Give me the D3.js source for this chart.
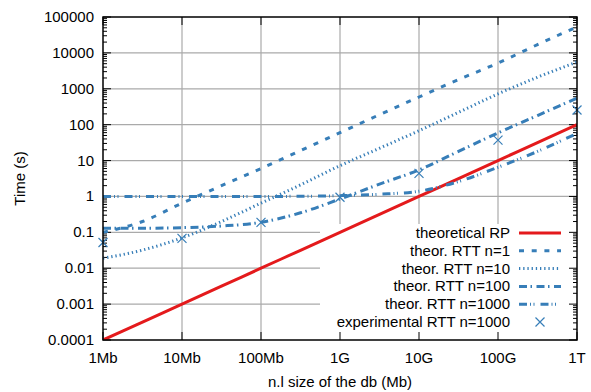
<!DOCTYPE html>
<html>
<head>
<meta charset="utf-8">
<script src="https://cdn.jsdelivr.net/npm/d3@7"></script>
<style>
  body { margin: 0; background: #fff; }
  svg text { font-family: "Liberation Sans", Arial, sans-serif; }
</style>
</head>
<body>
<div id="container"></div>
<script>
// db size in Mb (half-decade steps)
const sizes = [1, 3.16, 10, 31.6, 100, 316, 1000, 3162, 10000, 31623, 100000, 316228, 1000000];
const theoRP   = [0.0001, 0.000316, 0.001, 0.00316, 0.01, 0.0316, 0.1, 0.316, 1, 3.16, 10, 31.6, 100];
const rtt1     = [0.1, 0.2, 0.65, 2.0, 6, 19, 60, 190, 590, 1800, 5200, 17000, 53000];
const rtt10    = [0.019, 0.032, 0.07, 0.2, 0.65, 2.1, 7.2, 22, 68, 220, 720, 2100, 5600];
const rtt100   = [0.13, 0.13, 0.135, 0.15, 0.19, 0.35, 0.85, 2.2, 5.5, 18, 59, 180, 550];
const rtt1000  = [1.0, 1.0, 1.0, 1.0, 1.0, 1.01, 1.05, 1.15, 1.4, 2.6, 6.5, 18, 57];
// experimental points, one per decade
const expSizes = [1, 10, 100, 1000, 10000, 100000, 1000000];
const expRTT   = [0.052, 0.068, 0.19, 0.95, 4.4, 37, 257];

const xTicks = [1, 10, 100, 1000, 10000, 100000, 1000000];
const xTickLabels = ['1Mb', '10Mb', '100Mb', '1G', '10G', '100G', '1T'];
const yTicks = [0.0001, 0.001, 0.01, 0.1, 1, 10, 100, 1000, 10000, 100000];
const yTickLabels = ['0.0001', '0.001', '0.01', '0.1', '1', '10', '100', '1000', '10000', '100000'];

const width = 591, height = 392;
const margins = {top: 17, bottom: 52, left: 103, right: 14};
const blue = '#377eb8', red = '#e41a1c';
const fs = '15px';

const svg = d3.select('#container').append('svg')
    .attr('width', width).attr('height', height);

const xScale = d3.scaleLog().domain([1, 1e6]).range([margins.left, width - margins.right]);
const yScale = d3.scaleLog().domain([1e-4, 1e5]).range([height - margins.bottom, margins.top]);
const x0 = xScale.range()[0], x1 = xScale.range()[1];
const y0 = yScale.range()[0], y1 = yScale.range()[1];

// legend box edges (grid hidden behind it)
const keyLeft = 320, keyTop = 224;

// grid
const grid = svg.append('g').attr('stroke', '#aaa').attr('stroke-width', 1.2);
xTicks.slice(1, -1).forEach(v => {
    const x = xScale(v);
    grid.append('line').attr('x1', x).attr('x2', x).attr('y1', y1)
        .attr('y2', x > keyLeft ? keyTop : y0);
});
yTicks.slice(1, -1).forEach(v => {
    const y = yScale(v);
    grid.append('line').attr('y1', y).attr('y2', y).attr('x1', x0)
        .attr('x2', y > keyTop ? keyLeft : x1);
});

// ticks (inward, mirrored)
const ticks = svg.append('g').attr('stroke', '#000').attr('stroke-width', 1);
xTicks.forEach(v => {
    const x = xScale(v);
    ticks.append('line').attr('x1', x).attr('x2', x).attr('y1', y0).attr('y2', y0 - 8);
    ticks.append('line').attr('x1', x).attr('x2', x).attr('y1', y1).attr('y2', y1 + 8);
});
yTicks.forEach((v, i) => {
    const y = yScale(v);
    ticks.append('line').attr('y1', y).attr('y2', y).attr('x1', x0).attr('x2', x0 + 8);
    ticks.append('line').attr('y1', y).attr('y2', y).attr('x1', x1).attr('x2', x1 - 8);
    if (i < yTicks.length - 1) {
        for (let k = 2; k <= 9; k++) {
            const ym = yScale(v * k);
            ticks.append('line').attr('y1', ym).attr('y2', ym).attr('x1', x0).attr('x2', x0 + 4);
            ticks.append('line').attr('y1', ym).attr('y2', ym).attr('x1', x1).attr('x2', x1 - 4);
        }
    }
});

// curves
svg.append('clipPath').attr('id', 'clip').append('rect')
    .attr('x', x0).attr('y', y1).attr('width', x1 - x0).attr('height', y0 - y1);

const series = [
    {name: 'theoretical RP', vals: theoRP, color: red, dash: null, w: 3},
    {name: 'theor. RTT n=1', vals: rtt1, color: blue, dash: '5,7.7', w: 3},
    {name: 'theor. RTT n=10', vals: rtt10, color: blue, dash: '1.3,2.9', w: 3},
    {name: 'theor. RTT n=100', vals: rtt100, color: blue, dash: '8,3.5,1.5,4.5', w: 3},
    {name: 'theor. RTT n=1000', vals: rtt1000, color: blue, dash: '8,3,1,2.5,1,6', w: 3}
];

const line = d3.line()
    .x(d => xScale(d[0]))
    .y(d => yScale(d[1]))
    .curve(d3.curveMonotoneX);

const plot = svg.append('g').attr('clip-path', 'url(#clip)');
series.forEach(s => {
    plot.append('path')
        .datum(sizes.map((v, i) => [v, s.vals[i]]))
        .attr('d', line)
        .attr('fill', 'none')
        .attr('stroke', s.color)
        .attr('stroke-width', s.w)
        .attr('stroke-dasharray', s.dash);
});

function cross(g, x, y) {
    const r = 4.5;
    g.append('path')
        .attr('d', `M${x - r},${y - r}L${x + r},${y + r}M${x - r},${y + r}L${x + r},${y - r}`)
        .attr('stroke', blue).attr('stroke-width', 1.2).attr('fill', 'none');
}
expSizes.forEach((v, i) => cross(svg, xScale(v), yScale(expRTT[i])));

// border
svg.append('rect')
    .attr('x', x0).attr('y', y1).attr('width', x1 - x0).attr('height', y0 - y1)
    .attr('fill', 'none').attr('stroke', '#000').attr('stroke-width', 1.5);

// tick labels
svg.append('g').selectAll('text').data(xTicks).enter().append('text')
    .attr('x', d => xScale(d)).attr('y', 363)
    .attr('text-anchor', 'middle')
    .style('font-size', fs)
    .text((d, i) => xTickLabels[i]);

svg.append('g').selectAll('text').data(yTicks).enter().append('text')
    .attr('x', 94).attr('y', d => yScale(d) + 5)
    .attr('text-anchor', 'end')
    .style('font-size', fs)
    .text((d, i) => yTickLabels[i]);

// axis titles
svg.append('text')
    .attr('x', (x0 + x1) / 2).attr('y', 387)
    .attr('text-anchor', 'middle')
    .style('font-size', fs)
    .text('n.l size of the db (Mb)');

svg.append('text')
    .attr('text-anchor', 'middle')
    .attr('transform', `translate(25,${(y0 + y1) / 2})rotate(-90)`)
    .style('font-size', fs)
    .text('Time (s)');

// legend
const legendNames = series.map(s => s.name).concat(['experimental RTT n=1000']);
const rowY = i => 233 + i * 17.8;
const legend = svg.append('g');
legendNames.forEach((name, i) => {
    legend.append('text')
        .attr('x', 510).attr('y', rowY(i) + 5)
        .attr('text-anchor', 'end')
        .style('font-size', fs)
        .text(name);
    if (i < series.length) {
        const s = series[i];
        legend.append('line')
            .attr('x1', 519).attr('x2', 561).attr('y1', rowY(i)).attr('y2', rowY(i))
            .attr('stroke', s.color).attr('stroke-width', s.w)
            .attr('stroke-dasharray', s.dash);
    } else {
        cross(legend, 540, rowY(i));
    }
});
</script>
</body>
</html>
